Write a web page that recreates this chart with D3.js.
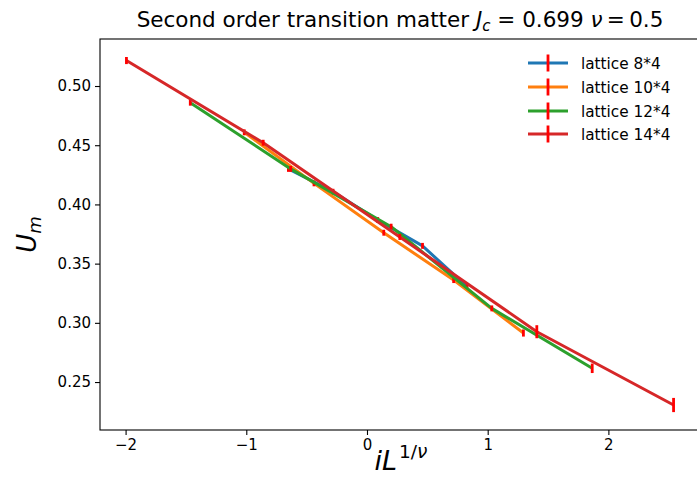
<!DOCTYPE html>
<html>
<head>
<meta charset="utf-8">
<script src="https://cdn.jsdelivr.net/npm/d3@7"></script>
<style>
  body { margin: 0; background: #fff; }
  svg { display: block; }
  text { font-family: "DejaVu Sans", sans-serif; fill: #000; }
</style>
</head>
<body>
<svg id="chart" width="697" height="493"></svg>
<script>
// Scaled coupling iL^{1/nu} and cumulant U_m for each lattice size
const seriesNames = ["lattice 8*4", "lattice 10*4", "lattice 12*4", "lattice 14*4"];
const seriesColors = ["#1f77b4", "#ff7f0e", "#2ca02c", "#d62728"];

const x8  = [-0.651, -0.281, 0.089, 0.460, 0.829];
const x10 = [-1.017, -0.439, 0.139, 0.718, 1.296];
const x12 = [-1.464, -0.632, 0.200, 1.034, 1.866];
const x14 = [-1.993, -0.860, 0.272, 1.407, 2.540];

const u8  = [0.4300, 0.4107, 0.3868, 0.3650, 0.3305];
const u10 = [0.4609, 0.4178, 0.3761, 0.3361, 0.2914];
const u12 = [0.4859, 0.4300, 0.3812, 0.3122, 0.2616];
const u14 = [0.5215, 0.4521, 0.3725, 0.2925, 0.2306];

const e8  = [0.0025, 0.0025, 0.0025, 0.0025, 0.0025];
const e10 = [0.0025, 0.0025, 0.0025, 0.0025, 0.0030];
const e12 = [0.0025, 0.0025, 0.0025, 0.0025, 0.0040];
const e14 = [0.0030, 0.0025, 0.0025, 0.0055, 0.0060];

const xTicks = [-2, -1, 0, 1, 2];
const yTicks = [0.25, 0.30, 0.35, 0.40, 0.45, 0.50];

const xs = [x8, x10, x12, x14];
const us = [u8, u10, u12, u14];
const es = [e8, e10, e12, e14];

const series = seriesNames.map((name, i) => ({
  name,
  color: seriesColors[i],
  points: xs[i].map((x, k) => ({ x, u: us[i][k], err: es[i][k] }))
}));

const svg = d3.select("#chart");
const plot = { left: 100, top: 39, right: 700, bottom: 430 };

const xScale = d3.scaleLinear().domain([-2.212, 2.759]).range([plot.left, plot.right]);
const yScale = d3.scaleLinear().domain([0.2095, 0.5397]).range([plot.bottom, plot.top]);

const tickFont = 15;

// axes
const xAxis = d3.axisBottom(xScale).tickValues(xTicks).tickFormat(d3.format("d"))
  .tickSizeOuter(0).tickSizeInner(5).tickPadding(4);
const yAxis = d3.axisLeft(yScale).tickValues(yTicks).tickFormat(d3.format(".2f"))
  .tickSizeOuter(0).tickSizeInner(5).tickPadding(4);

const gx = svg.append("g").attr("transform", `translate(0,${plot.bottom})`).call(xAxis);
const gy = svg.append("g").attr("transform", `translate(${plot.left},0)`).call(yAxis);
[gx, gy].forEach(g => {
  g.select(".domain").remove();
  g.selectAll(".tick line").attr("stroke", "#000").attr("stroke-width", 1.1);
  g.selectAll(".tick text").attr("font-size", tickFont).attr("font-family", "DejaVu Sans").attr("fill", "#000");
});

// frame (right spine sits just past the canvas edge)
svg.append("rect")
  .attr("x", plot.left).attr("y", plot.top)
  .attr("width", plot.right - plot.left).attr("height", plot.bottom - plot.top)
  .attr("fill", "none").attr("stroke", "#000").attr("stroke-width", 1.1);

// data lines with red error bars
const line = d3.line().x(d => xScale(d.x)).y(d => yScale(d.u));
series.forEach(s => {
  svg.append("path")
    .datum(s.points)
    .attr("d", line)
    .attr("fill", "none")
    .attr("stroke", s.color)
    .attr("stroke-width", 3)
    .attr("stroke-linejoin", "round");
  svg.append("g").selectAll("line").data(s.points).join("line")
    .attr("x1", d => xScale(d.x)).attr("x2", d => xScale(d.x))
    .attr("y1", d => yScale(d.u - d.err)).attr("y2", d => yScale(d.u + d.err))
    .attr("stroke", "#ff0000")
    .attr("stroke-width", 2.8);
});

// legend
const legend = svg.append("g");
const rowY = [63, 87, 111, 134];
series.forEach((s, i) => {
  const g = legend.append("g").attr("transform", `translate(0,${rowY[i]})`);
  g.append("line").attr("x1", 528).attr("x2", 568).attr("y1", 0).attr("y2", 0)
    .attr("stroke", s.color).attr("stroke-width", 3);
  g.append("line").attr("x1", 548).attr("x2", 548).attr("y1", -8.5).attr("y2", 8.5)
    .attr("stroke", "#ff0000").attr("stroke-width", 2.8);
  g.append("text").attr("x", 581).attr("y", 0).attr("dy", "0.36em")
    .attr("font-size", 15.3).text(s.name);
});

// title
const title = svg.append("text").attr("x", 400).attr("y", 27)
  .attr("text-anchor", "middle").attr("font-size", 21.5);
title.append("tspan").text("Second order transition matter ");
title.append("tspan").attr("font-style", "italic").text("J");
title.append("tspan").attr("font-style", "italic").attr("font-size", 15).attr("dy", 4).text("c");
title.append("tspan").attr("dy", -4).text(" = 0.699 ");
title.append("tspan").attr("font-style", "italic").text("ν");
title.append("tspan").text("\u2009=\u20090.5");

// x label: iL^{1/ν}
const xl = svg.append("text").attr("x", 401).attr("y", 470)
  .attr("text-anchor", "middle").attr("font-size", 27);
xl.append("tspan").attr("font-style", "italic").text("iL");
xl.append("tspan").attr("font-size", 18.5).attr("dy", -12).attr("dx", 2).text("1/");
xl.append("tspan").attr("font-size", 18.5).attr("font-style", "italic").text("ν");

// y label: U_m
const yl = svg.append("text")
  .attr("transform", `translate(36,${(plot.top + plot.bottom) / 2}) rotate(-90)`)
  .attr("text-anchor", "middle").attr("font-size", 26);
yl.append("tspan").attr("font-style", "italic").text("U");
yl.append("tspan").attr("font-style", "italic").attr("font-size", 18).attr("dy", 5).text("m");
</script>
</body>
</html>
